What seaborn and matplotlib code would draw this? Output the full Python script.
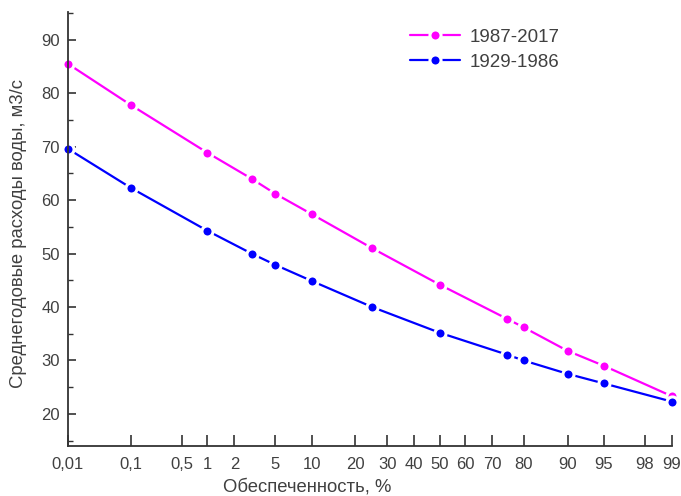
import numpy as np
import pandas as pd
import matplotlib
matplotlib.use("Agg")
import matplotlib.pyplot as plt
import seaborn as sns
from matplotlib.ticker import MultipleLocator, FixedLocator, NullLocator
from statistics import NormalDist

# ---- data ----
prob = [0.01, 0.1, 1, 3, 5, 10, 25, 50, 75, 80, 90, 95, 99]
q_1987_2017 = [85.5, 77.8, 68.9, 64.0, 61.2, 57.4, 51.0, 44.2, 37.8, 36.2, 31.8, 29.0, 23.3]
q_1929_1986 = [69.6, 62.3, 54.3, 50.0, 47.9, 44.9, 40.0, 35.2, 31.1, 30.0, 27.5, 25.7, 22.3]
xtick_vals = [0.01, 0.1, 0.5, 1, 2, 5, 10, 20, 30, 40, 50, 60, 70, 80, 90, 95, 98, 99]
xtick_labels = ["0,01", "0,1", "0,5", "1", "2", "5", "10", "20", "30", "40", "50",
                "60", "70", "80", "90", "95", "98", "99"]
series_names = ["1987-2017", "1929-1986"]
colors = ["#FF00FF", "#0000FF"]

df = pd.DataFrame({
    "p": prob * 2,
    "q": q_1987_2017 + q_1929_1986,
    "period": [series_names[0]] * len(prob) + [series_names[1]] * len(prob),
})

sns.set_theme(style="white")
plt.rcParams["font.family"] = ["Liberation Sans", "DejaVu Sans"]
narrow = ["Liberation Sans Narrow", "Liberation Sans", "DejaVu Sans"]
text_color = "#404040"

nd = NormalDist()
_ppf = np.vectorize(nd.inv_cdf, otypes=[float])
_cdf = np.vectorize(nd.cdf, otypes=[float])

def fwd(p):
    p = np.clip(np.asarray(p, float) / 100.0, 1e-9, 1 - 1e-9)
    return _ppf(p)

def inv(z):
    return _cdf(np.asarray(z, float)) * 100.0

fig = plt.figure(figsize=(6.81, 4.96), dpi=100)
ax = fig.add_axes([68 / 681, 1 - 446 / 496, (672 - 68) / 681, (446 - 12) / 496])
ax.set_xscale("function", functions=(fwd, inv))

for name, col in zip(series_names, colors):
    sub = df[df["period"] == name]
    sns.lineplot(data=sub, x="p", y="q", ax=ax, color=col, label=name,
                 marker="o", markersize=8, markeredgecolor="white",
                 markeredgewidth=2.2, linewidth=1.6, clip_on=False)

ax.set_xlim(0.01, 99)
ax.set_ylim(14, 95.2)
ax.xaxis.set_major_locator(FixedLocator(xtick_vals))
ax.set_xticklabels(xtick_labels)
ax.xaxis.set_minor_locator(NullLocator())
ax.set_yticks(range(20, 91, 10))
ax.yaxis.set_minor_locator(MultipleLocator(5))

for lbl in ax.get_xticklabels() + ax.get_yticklabels():
    lbl.set_family(narrow)

for s in ["top", "right"]:
    ax.spines[s].set_visible(False)
for s in ["left", "bottom"]:
    ax.spines[s].set_color("#333333")
    ax.spines[s].set_linewidth(1.3)

ax.tick_params(axis="x", which="major", direction="in", length=8, width=1.2,
               colors="#333333", labelcolor=text_color, labelsize=12, pad=8, bottom=True)
ax.tick_params(axis="y", which="major", direction="in", length=6, width=1.2,
               colors="#333333", labelcolor=text_color, labelsize=12, pad=6, left=True)
ax.tick_params(axis="y", which="minor", direction="in", length=3.5, width=1.0,
               colors="#333333", left=True)

ax.set_xlabel("Обеспеченность, %", fontsize=13.3, color=text_color)
ax.set_ylabel("Среднегодовые расходы воды, м3/с", fontsize=13.3, color=text_color)
ax.xaxis.set_label_coords((307 - 68) / 604, -0.074)
ax.yaxis.set_label_coords(-0.068, 0.49)

leg = ax.legend(loc="upper left", bbox_to_anchor=(404 / 681, 1 - 23 / 496),
                bbox_transform=fig.transFigure, frameon=False, fontsize=13.5,
                handlelength=2.7, handletextpad=0.5, labelspacing=0.42,
                borderaxespad=0, borderpad=0.3)
for t in leg.get_texts():
    t.set_color(text_color)

ax.grid(False)
fig.savefig("out.png", dpi=100)
